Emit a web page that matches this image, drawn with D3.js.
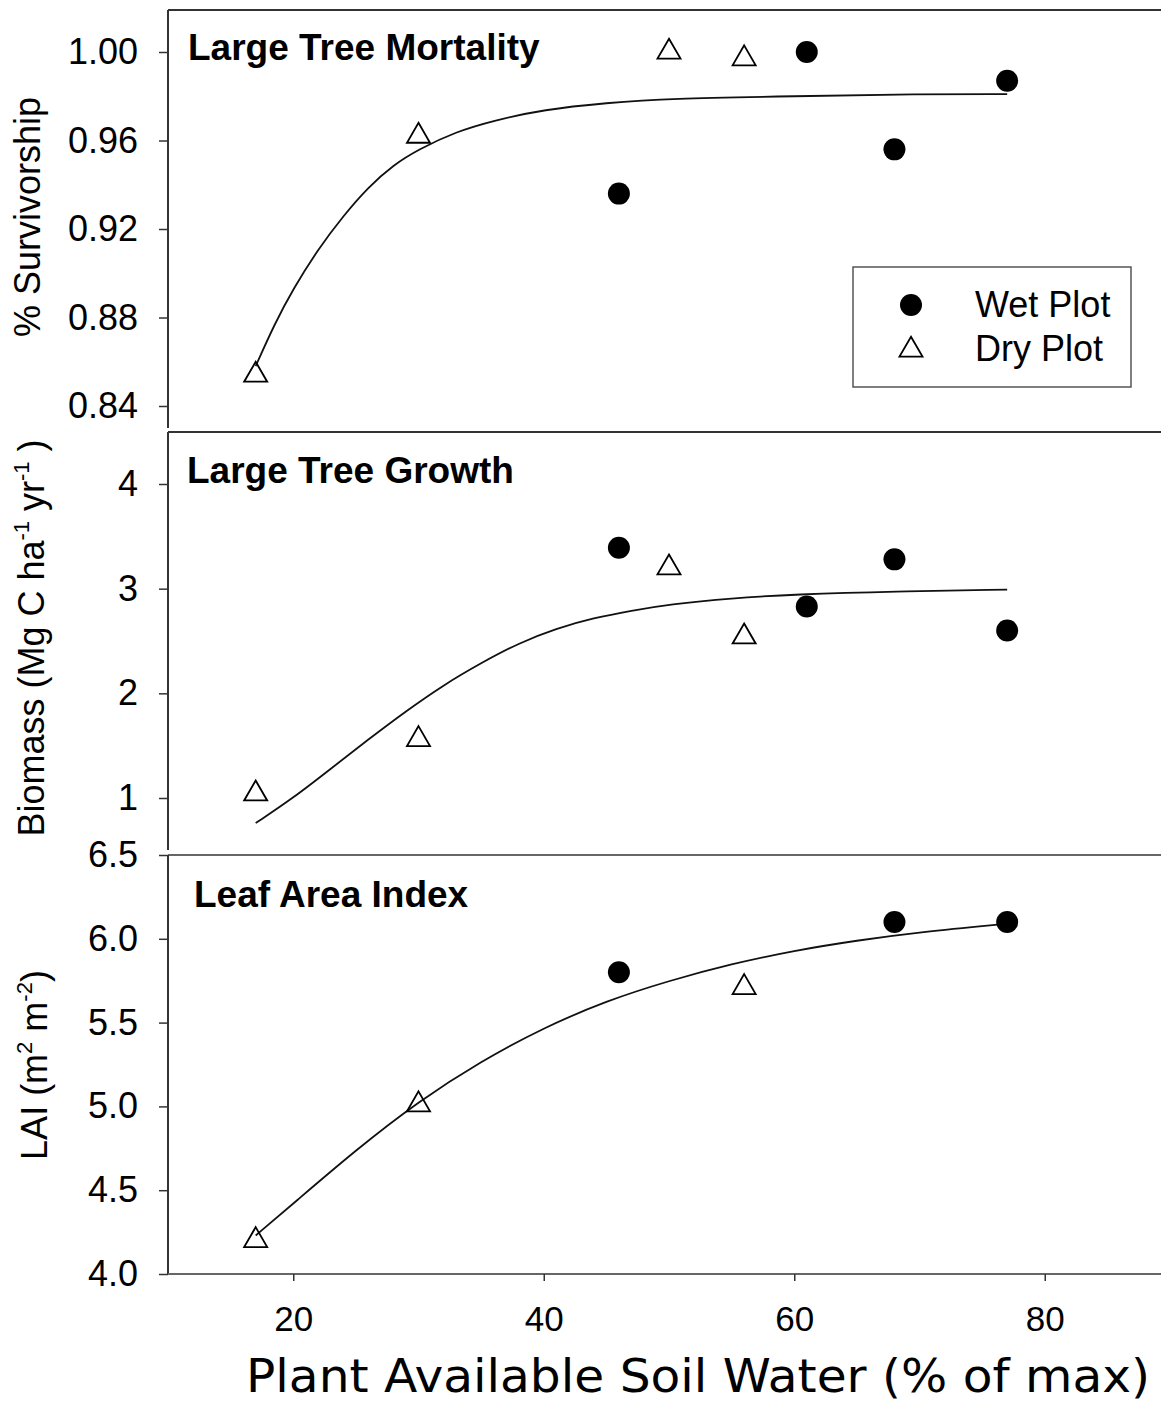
<!DOCTYPE html>
<html>
<head>
<meta charset="utf-8">
<script src="https://cdn.jsdelivr.net/npm/d3@7"></script>
<style>
  body { margin: 0; background: #fff; }
  svg { display: block; font-family: Arial, "Liberation Sans", sans-serif; }
</style>
</head>
<body>
<svg id="chart" width="1161" height="1405"></svg>
<script>
// soil water (% of max) for each plot
const dryWater = [17, 30, 50, 56];
const wetWater = [46, 61, 68, 77];

// large tree mortality (% survivorship)
const survDry = [0.854, 0.962, 1.000, 0.997];
const survWet = [0.936, 1.000, 0.956, 0.987];
const survFitX = [17, 18.5, 20, 22, 24, 26, 28, 30, 33, 36, 40, 45, 50, 60, 70, 77];
const survFitY = [0.858, 0.877, 0.893, 0.911, 0.926, 0.939, 0.949, 0.956, 0.964, 0.969, 0.974, 0.977, 0.979, 0.980, 0.981, 0.981];

// large tree growth (Mg C / ha / yr)
const growDry = [1.04, 1.56, 3.20, 2.54];
const growWet = [3.39, 2.83, 3.28, 2.60];
const growFitX = [17, 20, 23, 26, 29, 32, 35, 38, 41, 44, 47, 50, 55, 60, 68, 77];
const growFitY = [0.76, 1.00, 1.28, 1.56, 1.83, 2.08, 2.29, 2.48, 2.62, 2.72, 2.79, 2.85, 2.91, 2.945, 2.975, 2.99];

// leaf area index
const laiDryWater = [17, 30, 56];
const laiDry = [4.20, 5.01, 5.71];
const laiWetWater = [46, 68, 77];
const laiWet = [5.80, 6.10, 6.10];
const laiFitX = [17, 20, 25, 30, 35, 40, 45, 50, 55, 60, 65, 70, 77];
const laiFitY = [4.23, 4.42, 4.74, 5.03, 5.27, 5.47, 5.63, 5.75, 5.85, 5.93, 5.99, 6.04, 6.09];

// ticks
const xTicks = [20, 40, 60, 80];
const survTicks = [0.84, 0.88, 0.92, 0.96, 1.00];
const growTicks = [1, 2, 3, 4];
const laiTicks = [4.0, 4.5, 5.0, 5.5, 6.0, 6.5];

const svg = d3.select("#chart");
const left = 168, right = 1161;

const x = d3.scaleLinear().domain([10, 90]).range([left, 1170]);

const panels = [
  {
    title: "Large Tree Mortality", titleX: 188, titleY: 60,
    top: 10, bottom: 428,
    y: d3.scaleLinear().domain([0.84, 1.00]).range([406, 52]),
    ticks: survTicks, fmt: d3.format(".2f"),
    dry: dryWater.map((w, i) => [w, survDry[i]]),
    wet: wetWater.map((w, i) => [w, survWet[i]]),
    fit: survFitX.map((w, i) => [w, survFitY[i]]),
    line: "#333"
  },
  {
    title: "Large Tree Growth", titleX: 187, titleY: 483,
    top: 432, bottom: 850,
    y: d3.scaleLinear().domain([1, 4]).range([798, 484]),
    ticks: growTicks, fmt: d3.format("d"),
    dry: dryWater.map((w, i) => [w, growDry[i]]),
    wet: wetWater.map((w, i) => [w, growWet[i]]),
    fit: growFitX.map((w, i) => [w, growFitY[i]]),
    line: "#333"
  },
  {
    title: "Leaf Area Index", titleX: 194, titleY: 907,
    top: 855, bottom: 1274,
    y: d3.scaleLinear().domain([4.0, 6.5]).range([1274, 855]),
    ticks: laiTicks, fmt: d3.format(".1f"),
    dry: laiDryWater.map((w, i) => [w, laiDry[i]]),
    wet: laiWetWater.map((w, i) => [w, laiWet[i]]),
    fit: laiFitX.map((w, i) => [w, laiFitY[i]]),
    line: "#666"
  }
];

const triangle = d3.symbol().type(d3.symbolTriangle).size(230);

panels.forEach(p => {
  const g = svg.append("g");

  // frame: top edge and left axis line
  g.append("line")
    .attr("x1", left).attr("x2", right)
    .attr("y1", p.top).attr("y2", p.top)
    .attr("stroke", p.line).attr("stroke-width", 2);
  g.append("line")
    .attr("x1", left).attr("x2", left)
    .attr("y1", p.top).attr("y2", p.bottom)
    .attr("stroke", "#333").attr("stroke-width", 2);

  // y axis ticks
  const ax = g.append("g")
    .attr("transform", `translate(${left},0)`)
    .call(d3.axisLeft(p.y).tickValues(p.ticks).tickFormat(p.fmt).tickSize(9).tickPadding(21));
  ax.select(".domain").remove();
  ax.selectAll("line").attr("stroke", "#333").attr("stroke-width", 1.5);
  ax.selectAll("text")
    .attr("font-size", 36)
    .attr("font-family", "Arial, 'Liberation Sans', sans-serif")
    .attr("fill", "#000");

  // panel title
  g.append("text")
    .attr("x", p.titleX).attr("y", p.titleY)
    .attr("font-size", 37).attr("font-weight", "bold")
    .text(p.title);

  // fitted curve
  g.append("path")
    .datum(p.fit)
    .attr("d", d3.line().x(d => x(d[0])).y(d => p.y(d[1])).curve(d3.curveBasis))
    .attr("fill", "none")
    .attr("stroke", "#111")
    .attr("stroke-width", 1.8);

  // wet plot points
  g.selectAll(".wet")
    .data(p.wet)
    .enter()
    .append("circle")
    .attr("cx", d => x(d[0]))
    .attr("cy", d => p.y(d[1]))
    .attr("r", 11)
    .attr("fill", "#000");

  // dry plot points
  g.selectAll(".dry")
    .data(p.dry)
    .enter()
    .append("path")
    .attr("d", triangle)
    .attr("transform", d => `translate(${x(d[0])},${p.y(d[1])})`)
    .attr("fill", "none")
    .attr("stroke", "#000")
    .attr("stroke-width", 1.8);
});

// bottom x axis
const bottomY = panels[2].bottom;
svg.append("line")
  .attr("x1", left).attr("x2", right)
  .attr("y1", bottomY).attr("y2", bottomY)
  .attr("stroke", "#666").attr("stroke-width", 2);

const xAxis = svg.append("g")
  .attr("transform", `translate(0,${bottomY})`)
  .call(d3.axisBottom(x).tickValues(xTicks).tickSize(7).tickPadding(25));
xAxis.select(".domain").remove();
xAxis.selectAll("line").attr("stroke", "#333").attr("stroke-width", 1.5);
xAxis.selectAll("text")
  .attr("font-size", 35)
  .attr("font-family", "Arial, 'Liberation Sans', sans-serif")
  .attr("fill", "#000");

svg.append("text")
  .attr("x", 246).attr("y", 1392)
  .attr("font-family", "'DejaVu Sans', sans-serif")
  .attr("font-size", 46)
  .attr("textLength", 904)
  .attr("lengthAdjust", "spacingAndGlyphs")
  .text("Plant Available Soil Water (% of max)");

// y axis titles
svg.append("text")
  .attr("transform", "translate(40,217) rotate(-90)")
  .attr("text-anchor", "middle")
  .attr("font-size", 36)
  .text("% Survivorship");

const bioTitle = svg.append("text")
  .attr("transform", "translate(44,638) rotate(-90)")
  .attr("text-anchor", "middle")
  .attr("font-size", 36);
bioTitle.append("tspan").text("Biomass (Mg C ha");
bioTitle.append("tspan").attr("font-size", 22).attr("dy", -15).text("-1");
bioTitle.append("tspan").attr("dy", 15).text(" yr");
bioTitle.append("tspan").attr("font-size", 22).attr("dy", -15).text("-1");
bioTitle.append("tspan").attr("dy", 15).text(" )");

const laiTitle = svg.append("text")
  .attr("transform", "translate(47,1065) rotate(-90)")
  .attr("text-anchor", "middle")
  .attr("font-size", 36);
laiTitle.append("tspan").text("LAI (m");
laiTitle.append("tspan").attr("font-size", 22).attr("dy", -15).text("2");
laiTitle.append("tspan").attr("dy", 15).text(" m");
laiTitle.append("tspan").attr("font-size", 22).attr("dy", -15).text("-2");
laiTitle.append("tspan").attr("dy", 15).text(")");

// legend
const legend = svg.append("g");
legend.append("rect")
  .attr("x", 853).attr("y", 267)
  .attr("width", 278).attr("height", 120)
  .attr("fill", "#fff")
  .attr("stroke", "#555").attr("stroke-width", 1.5);
legend.append("circle")
  .attr("cx", 911).attr("cy", 305).attr("r", 11).attr("fill", "#000");
legend.append("path")
  .attr("d", triangle)
  .attr("transform", "translate(911,350)")
  .attr("fill", "none").attr("stroke", "#000").attr("stroke-width", 1.8);
legend.append("text")
  .attr("x", 975).attr("y", 317).attr("font-size", 36).text("Wet Plot");
legend.append("text")
  .attr("x", 975).attr("y", 361).attr("font-size", 36).text("Dry Plot");
</script>
</body>
</html>
